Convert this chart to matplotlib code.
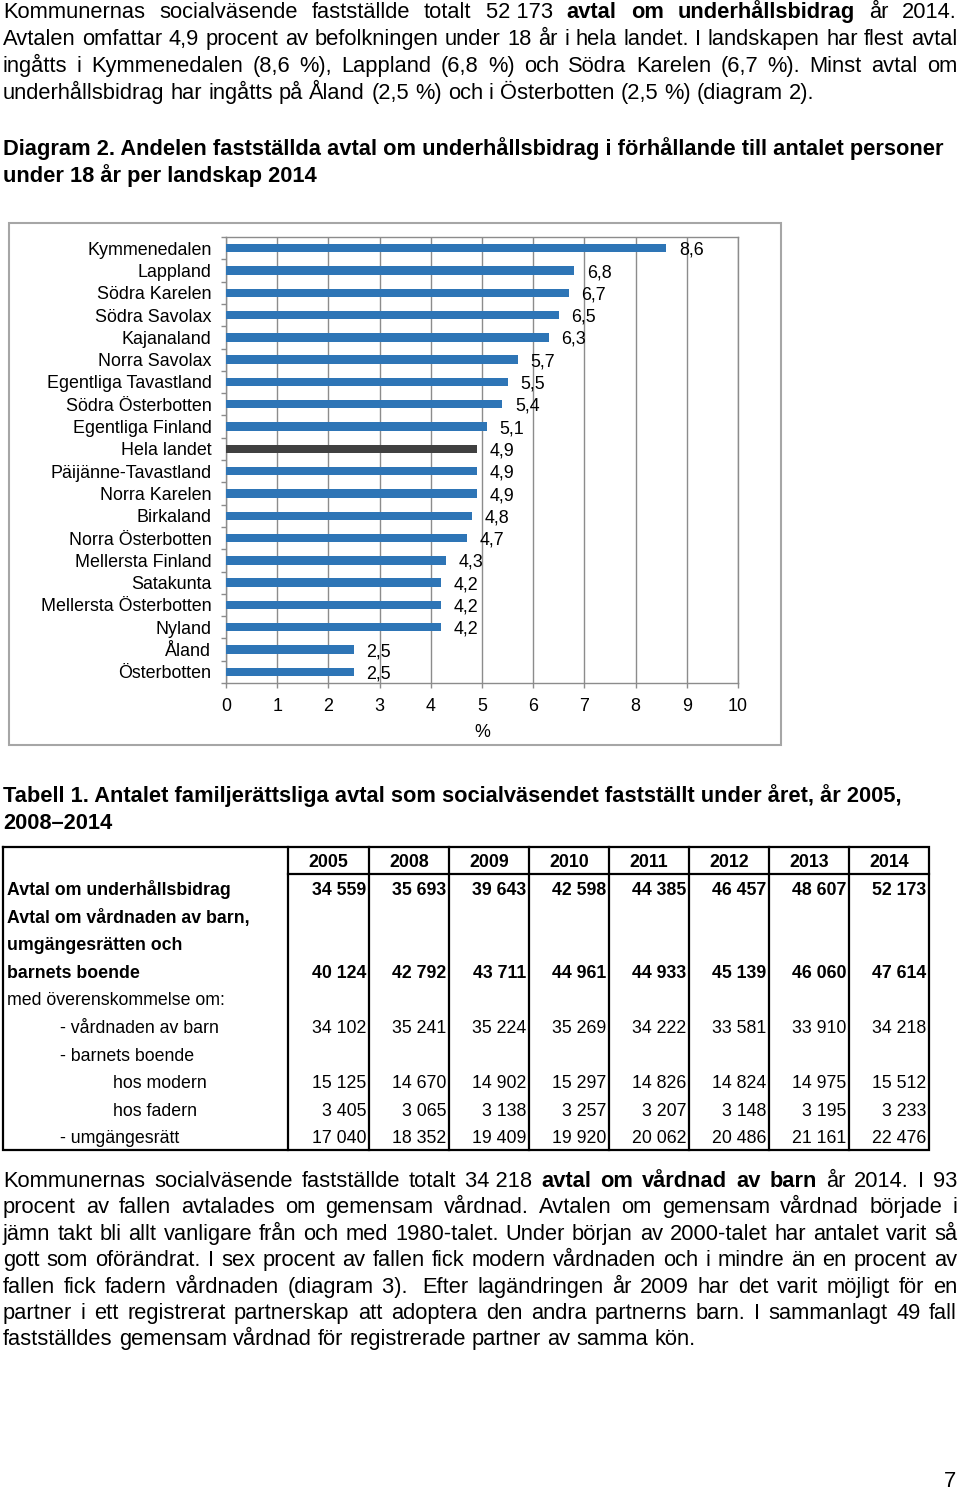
import numpy as np
import matplotlib
matplotlib.use('Agg')
import matplotlib.pyplot as plt
from matplotlib.patches import Rectangle

FONT = 'Liberation Sans'
plt.rcParams['font.family'] = [FONT, 'DejaVu Sans']

# ---------------- chart data ----------------
regions = ['Kymmenedalen', 'Lappland', 'Södra Karelen', 'Södra Savolax', 'Kajanaland',
           'Norra Savolax', 'Egentliga Tavastland', 'Södra Österbotten', 'Egentliga Finland',
           'Hela landet', 'Päijänne-Tavastland', 'Norra Karelen', 'Birkaland',
           'Norra Österbotten', 'Mellersta Finland', 'Satakunta', 'Mellersta Österbotten',
           'Nyland', 'Åland', 'Österbotten']
shares = [8.6, 6.8, 6.7, 6.5, 6.3, 5.7, 5.5, 5.4, 5.1, 4.9, 4.9, 4.9, 4.8, 4.7, 4.3,
          4.2, 4.2, 4.2, 2.5, 2.5]
highlight = 'Hela landet'
x_ticks = list(range(0, 11))

# ---------------- table data ----------------
years = ['2005', '2008', '2009', '2010', '2011', '2012', '2013', '2014']
underhall = [34559, 35693, 39643, 42598, 44385, 46457, 48607, 52173]
vardnad_total = [40124, 42792, 43711, 44961, 44933, 45139, 46060, 47614]
vardnaden_av_barn = [34102, 35241, 35224, 35269, 34222, 33581, 33910, 34218]
hos_modern = [15125, 14670, 14902, 15297, 14826, 14824, 14975, 15512]
hos_fadern = [3405, 3065, 3138, 3257, 3207, 3148, 3195, 3233]
umgangesratt = [17040, 18352, 19409, 19920, 20062, 20486, 21161, 22476]

table_rows = [
    ('Avtal om underhållsbidrag', 0, True, underhall),
    ('Avtal om vårdnaden av barn,', 0, True, None),
    ('umgängesrätten och', 0, True, None),
    ('barnets boende', 0, True, vardnad_total),
    ('med överenskommelse om:', 0, False, None),
    ('- vårdnaden av barn', 1, False, vardnaden_av_barn),
    ('- barnets boende', 1, False, None),
    ('hos modern', 2, False, hos_modern),
    ('hos fadern', 2, False, hos_fadern),
    ('- umgängesrätt', 1, False, umgangesratt),
]

# ---------------- text ----------------
para1 = [
    [("Kommunernas socialväsende fastställde totalt 52\u00a0173", False),
     ("avtal om underhållsbidrag", True), ("år 2014.", False)],
    [("Avtalen omfattar 4,9 procent av befolkningen under 18 år i hela landet. I landskapen har flest avtal", False)],
    [("ingåtts i Kymmenedalen (8,6 %), Lappland (6,8 %) och Södra Karelen (6,7 %). Minst avtal om", False)],
    [("underhållsbidrag har ingåtts på Åland (2,5 %) och i Österbotten (2,5 %) (diagram 2).", False)],
]
para2 = [
    [("Kommunernas socialväsende fastställde totalt 34\u00a0218", False),
     ("avtal om vårdnad av barn", True), ("år 2014. I 93", False)],
    [("procent av fallen avtalades om gemensam vårdnad. Avtalen om gemensam vårdnad började i", False)],
    [("jämn takt bli allt vanligare från och med 1980-talet. Under början av 2000-talet har antalet varit så", False)],
    [("gott som oförändrat. I sex procent av fallen fick modern vårdnaden och i mindre än en procent av", False)],
    [("fallen fick fadern vårdnaden (diagram 3).\u00a0 Efter lagändringen år 2009 har det varit möjligt för en", False)],
    [("partner i ett registrerat partnerskap att adoptera den andra partnerns barn. I sammanlagt 49 fall", False)],
    [("fastställdes gemensam vårdnad för registrerade partner av samma kön.", False)],
]

W, H = 960, 1493
fig = plt.figure(figsize=(W / 100, H / 100), dpi=100)
bg = fig.add_axes([0, 0, 1, 1])
bg.set_xlim(0, W)
bg.set_ylim(H, 0)
bg.axis('off')
renderer = fig.canvas.get_renderer()

BODY = 15.75
SMALL = 12.8
CH = 12.9


def text_w(s, bold, size):
    t = bg.text(0, 0, s, fontsize=size, fontweight='bold' if bold else 'normal')
    w = t.get_window_extent(renderer).width
    t.remove()
    return w


def draw_line(segs, y, x0, x1, size, justify):
    words = []
    for s, b in segs:
        for w in s.split(' '):
            if w:
                words.append((w, b))
    widths = [text_w(w, b, size) for w, b in words]
    sp = text_w('a a', False, size) - text_w('aa', False, size)
    if justify and len(words) > 1:
        gap = (x1 - x0 - sum(widths)) / (len(words) - 1)
    else:
        gap = sp
    x = x0
    for (w, b), wd in zip(words, widths):
        bg.text(x, y, w, fontsize=size, fontweight='bold' if b else 'normal',
                ha='left', va='baseline', color='black')
        x += wd + gap


def draw_para(lines, y0, dy, x0=3, x1=957, size=BODY):
    for i, segs in enumerate(lines):
        draw_line(segs, y0 + i * dy, x0, x1, size, justify=(i < len(lines) - 1))


draw_para(para1, 18, 27)
bg.text(3, 155, 'Diagram 2. Andelen fastställda avtal om underhållsbidrag i förhållande till antalet personer',
        fontsize=BODY, fontweight='bold', va='baseline')
bg.text(3, 182, 'under 18 år per landskap 2014', fontsize=BODY, fontweight='bold', va='baseline')

# chart frame
bg.add_patch(Rectangle((9, 223), 772, 522, fill=False, edgecolor='#A6A6A6', lw=1.5))

ax = fig.add_axes([226 / W, 1 - 683 / H, 512 / W, 446 / H])
n = len(regions)
ypos = np.arange(n)
colors = ['#404040' if r == highlight else '#2E75B6' for r in regions]
ax.barh(ypos, shares, height=0.38, color=colors, zorder=3)
ax.set_ylim(n - 0.5, -0.5)
ax.set_xlim(0, 10)
ax.set_xticks(x_ticks)
ax.set_xticklabels([str(t) for t in x_ticks])
ax.set_yticks(ypos)
ax.set_yticklabels(regions)
ax.set_yticks(np.arange(-0.5, n, 1.0), minor=True)
gc = '#8C8C8C'
ax.tick_params(axis='y', which='major', length=0, pad=10.5, labelsize=CH)
ax.tick_params(axis='y', which='minor', length=3.5, color=gc, width=1)
ax.tick_params(axis='x', length=3.5, color=gc, width=1, labelsize=CH, pad=7.6)
ax.grid(axis='x', color=gc, lw=1, zorder=0)
ax.set_axisbelow(True)
for s in ax.spines.values():
    s.set_color(gc)
    s.set_linewidth(1)
ax.set_xlabel('%', fontsize=CH, labelpad=6)
for i, v in enumerate(shares):
    ax.annotate(f"{v:.1f}".replace('.', ','), (v, i), xytext=(9, -1.5),
                textcoords='offset points', va='center', ha='left', fontsize=CH, zorder=4)

# table caption
bg.text(3, 802, 'Tabell 1. Antalet familjerättsliga avtal som socialväsendet fastställt under året, år 2005,',
        fontsize=BODY, fontweight='bold', va='baseline')
bg.text(3, 829, '2008–2014', fontsize=BODY, fontweight='bold', va='baseline')

# table
col_edges = [288, 369, 449, 529, 609, 689, 769, 849, 929]
top, bottom, left = 847, 1150, 3
hdr_bottom = 874
lw_t = 1.6
bg.plot([left, col_edges[-1], col_edges[-1], left, left], [top, top, bottom, bottom, top],
        color='black', lw=lw_t, solid_joinstyle='miter')
for x in col_edges[:-1]:
    bg.plot([x, x], [top, bottom], color='black', lw=lw_t)
bg.plot([col_edges[0], col_edges[-1]], [hdr_bottom, hdr_bottom], color='black', lw=lw_t)
for j, yr in enumerate(years):
    cx = (col_edges[j] + col_edges[j + 1]) / 2
    bg.text(cx, 867, yr, fontsize=SMALL, fontweight='bold', ha='center', va='baseline')

row_y0, row_dy = 895, 27.6
indents = [7, 60, 113]
for i, (lab, ind, bold, vals) in enumerate(table_rows):
    y = row_y0 + i * row_dy
    fw = 'bold' if bold else 'normal'
    bg.text(indents[ind], y, lab, fontsize=SMALL, fontweight=fw, ha='left', va='baseline')
    if vals is not None:
        for j, v in enumerate(vals):
            s = f"{v:,}".replace(',', '\u00a0')
            bg.text(col_edges[j + 1] - 3, y, s, fontsize=SMALL, fontweight=fw,
                    ha='right', va='baseline')

draw_para(para2, 1187, 26.4)

bg.text(956, 1487, '7', fontsize=BODY, ha='right', va='baseline')

fig.savefig('out.png', dpi=100)
